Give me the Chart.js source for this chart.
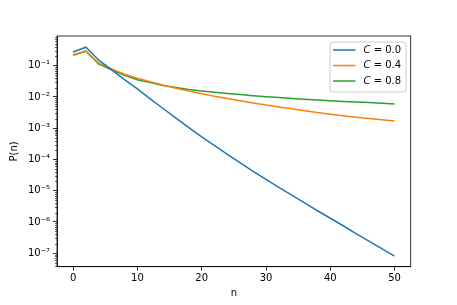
<!DOCTYPE html>
<html lang="en">
<head>
<meta charset="UTF-8">
<title>P(n)</title>
<script src="https://cdn.jsdelivr.net/npm/chart.js"></script>
<style>
    body { margin: 0; background: #fff; }
    canvas { display: block; }
</style>
</head>
<body>
<canvas id="chart" width="457" height="305"></canvas>
<script>
// values (log scale, so estimates)
const nValues = [0, 2, 4, 6, 8, 10, 12, 14, 16, 18, 20, 22, 24, 26, 28, 30, 32, 34, 36, 38, 40, 42, 44, 46, 48, 50];
const c00 = [0.275, 0.39, 0.15, 0.074, 0.036, 0.0182, 8.7e-3, 4.27e-3, 2.09e-3, 1.05e-3, 5.25e-4, 2.75e-4, 1.45e-4,
    7.76e-5, 4.17e-5, 2.29e-5, 1.29e-5, 7.24e-6, 4.07e-6, 2.29e-6, 1.32e-6, 7.59e-7, 4.27e-7, 2.45e-7, 1.41e-7, 8.1e-8];
const c04 = [0.225, 0.30, 0.12, 0.079, 0.0537, 0.0398, 0.0309, 0.0240, 0.0191, 0.0155, 0.0126, 0.0105, 8.91e-3,
    7.59e-3, 6.46e-3, 5.50e-3, 4.79e-3, 4.17e-3, 3.63e-3, 3.16e-3, 2.82e-3, 2.51e-3, 2.24e-3, 2.04e-3, 1.86e-3, 1.70e-3];
const c08 = [0.214, 0.288, 0.112, 0.074, 0.049, 0.0355, 0.0288, 0.0234, 0.0200, 0.0174, 0.0155, 0.0141, 0.0129,
    0.0119, 0.0110, 0.0102, 9.55e-3, 9.0e-3, 8.5e-3, 8.0e-3, 7.6e-3, 7.2e-3, 6.9e-3, 6.6e-3, 6.3e-3, 6.0e-3];
const seriesLabels = ['C = 0.0', 'C = 0.4', 'C = 0.8'];
const colors = ['#1f77b4', '#ff7f0e', '#2ca02c'];
const xTicks = [0, 10, 20, 30, 40, 50];
const yTicks = [1e-7, 1e-6, 1e-5, 1e-4, 1e-3, 1e-2, 1e-1];

const FONT = 'DejaVu Sans';
const sup = { '-': '⁻', '0': '⁰', '1': '¹', '2': '²', '3': '³', '4': '⁴', '5': '⁵', '6': '⁶', '7': '⁷', '8': '⁸', '9': '⁹' };
function powLabel(v) {
    const e = Math.round(Math.log10(v));
    return '10' + String(e).split('').map(ch => sup[ch]).join('');
}

const makeSet = (vals, i) => ({
    label: seriesLabels[i],
    data: nValues.map((n, k) => ({ x: n, y: vals[k] })),
    borderColor: colors[i],
    borderWidth: 1.5,
    pointRadius: 0,
    tension: 0,
    fill: false
});

// frame, minor ticks, axis titles, legend
const extras = {
    id: 'extras',
    afterDraw(chart) {
        const ctx = chart.ctx;
        const a = chart.chartArea;
        const y = chart.scales.y;
        ctx.save();
        ctx.strokeStyle = '#000';
        ctx.lineWidth = 0.8;
        ctx.strokeRect(a.left, a.top, a.right - a.left, a.bottom - a.top);

        // minor log ticks
        ctx.lineWidth = 0.6;
        ctx.beginPath();
        for (let k = -9; k <= 0; k++) {
            for (let m = 2; m <= 9; m++) {
                const v = m * Math.pow(10, k);
                if (v < y.min || v > y.max) continue;
                const py = Math.round(y.getPixelForValue(v)) + 0.5;
                ctx.moveTo(a.left - 2, py);
                ctx.lineTo(a.left, py);
            }
        }
        ctx.stroke();

        ctx.fillStyle = '#000';
        ctx.font = '10px "' + FONT + '"';
        ctx.textAlign = 'center';
        ctx.textBaseline = 'middle';
        ctx.fillText('n', (a.left + a.right) / 2, 293);
        ctx.save();
        ctx.translate(14, (a.top + a.bottom) / 2);
        ctx.rotate(-Math.PI / 2);
        ctx.fillText('P(n)', 0, 0);
        ctx.restore();

        // legend box
        const bx = 330, by = 42, bw = 76, bh = 50, r = 3;
        ctx.beginPath();
        ctx.moveTo(bx + r, by);
        ctx.arcTo(bx + bw, by, bx + bw, by + bh, r);
        ctx.arcTo(bx + bw, by + bh, bx, by + bh, r);
        ctx.arcTo(bx, by + bh, bx, by, r);
        ctx.arcTo(bx, by, bx + bw, by, r);
        ctx.closePath();
        ctx.fillStyle = 'rgba(255,255,255,0.8)';
        ctx.fill();
        ctx.strokeStyle = '#cccccc';
        ctx.lineWidth = 1;
        ctx.stroke();

        ctx.textAlign = 'left';
        chart.data.datasets.forEach((ds, i) => {
            const ly = 50 + i * 15.5;
            ctx.strokeStyle = ds.borderColor;
            ctx.lineWidth = 1.5;
            ctx.beginPath();
            ctx.moveTo(333, ly);
            ctx.lineTo(355.5, ly);
            ctx.stroke();
            ctx.fillStyle = '#000';
            ctx.font = 'italic 10px "' + FONT + '"';
            const first = ds.label.charAt(0);
            ctx.fillText(first, 363.5, ly);
            const w = ctx.measureText(first).width;
            ctx.font = '10px "' + FONT + '"';
            ctx.fillText(ds.label.slice(1), 363.5 + w, ly);
        });
        ctx.restore();
    }
};

new Chart(document.getElementById('chart'), {
    type: 'line',
    data: { datasets: [makeSet(c00, 0), makeSet(c04, 1), makeSet(c08, 2)] },
    options: {
        responsive: false,
        animation: false,
        layout: { padding: { left: 0, top: 36, right: 46.3, bottom: 0 } },
        plugins: { legend: { display: false }, tooltip: { enabled: false } },
        scales: {
            x: {
                type: 'linear',
                min: -2.5,
                max: 52.5,
                afterBuildTicks: s => { s.ticks = xTicks.map(v => ({ value: v })); },
                afterFit: s => { s.height = 38.3; },
                grid: { drawOnChartArea: false, tickLength: 4, tickColor: '#000', tickWidth: 0.8 },
                border: { color: '#000', width: 0.8 },
                ticks: { color: '#000', padding: 2, maxRotation: 0, font: { family: FONT, size: 10 } }
            },
            y: {
                type: 'logarithmic',
                min: Math.pow(10, -7.43),
                max: Math.pow(10, -0.05),
                afterBuildTicks: s => { s.ticks = yTicks.map(v => ({ value: v })); },
                afterFit: s => { s.width = 57; },
                grid: { drawOnChartArea: false, tickLength: 4, tickColor: '#000', tickWidth: 0.8 },
                border: { color: '#000', width: 0.8 },
                ticks: { color: '#000', padding: 3, font: { family: FONT, size: 10 }, callback: v => powLabel(v) }
            }
        }
    },
    plugins: [extras]
});
</script>
</body>
</html>
